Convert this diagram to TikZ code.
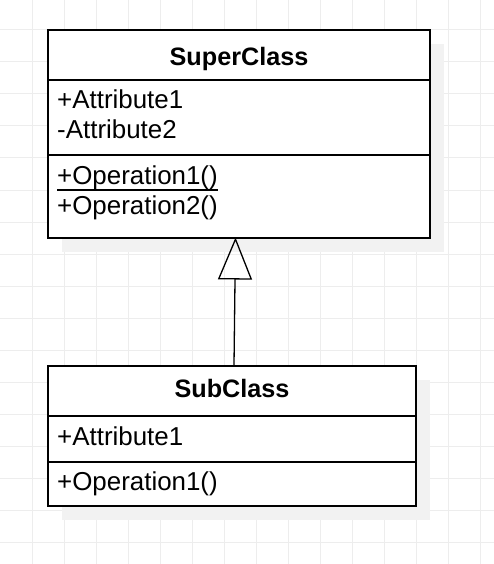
\documentclass[tikz,border=0pt]{standalone}
\usepackage{fontspec}
\setmainfont{Liberation Sans}
\usetikzlibrary{arrows.meta}
\tikzset{
	gridline/.style={line width=1pt, color=gray!14},
	shadowbox/.style={fill=black!5, draw=none},
	classbox/.style={draw=black, fill=white, line width=2pt, inner sep=0pt, anchor=north west},
	divider/.style={line width=2pt},
	member/.style={anchor=base west, inner sep=0pt, font=\fontsize{25.9}{30}\selectfont},
	classname/.style={anchor=base, inner sep=0pt, font=\fontsize{25.2}{30}\selectfont\bfseries},
	inherit/.style={line width=1.3pt, -{Triangle[open, length=42pt, width=34pt]}}
}

\begin{document}
\begin{tikzpicture}[x=1pt, y=-1pt]
		%%%%% START %%%%%
		\useasboundingbox (0,0) rectangle (494,564);
		\fill[white] (0,0) rectangle (494,564);
		
		% grid
		\foreach \gx in {32,64,...,480} \draw[gridline] (\gx,0) -- (\gx,564);
		\foreach \gy in {30,62,...,542} \draw[gridline] (0,\gy) -- (494,\gy);
		
		% super class
		\fill[shadowbox] (62,44) rectangle (444,252);
		\node[classbox, minimum width=382pt, minimum height=208pt] (super) at (47,29) {};
		\draw[divider] (48,80) -- (430,80);
		\draw[divider] (48,155.5) -- (430,155.5);
		
		\node[classname] (supername) at (239,66) {SuperClass};
		\node[member] (superattA) at (57,108.7) {+Attribute1};
		\node[member] (superattB) at (57,138.7) {-Attribute2};
		\node[member] (superopA) at (57,184.3) {+Operation1()};
		\node[member] (superopB) at (57,214.7) {+Operation2()};
		\draw[line width=1.8pt] ([yshift=-6pt]superopA.base west) -- ([yshift=-6pt]superopA.base east);
		
		% sub class
		\fill[shadowbox] (62,380) rectangle (430,520);
		\node[classbox, minimum width=368pt, minimum height=140pt] (sub) at (47,365) {};
		\draw[divider] (48,416) -- (416,416);
		\draw[divider] (48,462) -- (416,462);
		
		\node[classname] (subname) at (232,397) {SubClass};
		\node[member] (subattA) at (57,445) {+Attribute1};
		\node[member] (subopA) at (57,490) {+Operation1()};
		
		% generalisation
		\draw[inherit] ([xshift=2pt]sub.north) -- ([xshift=-3.5pt,yshift=1.5pt]super.south);
		
		%%%%% END %%%%%
\end{tikzpicture}
\end{document}
